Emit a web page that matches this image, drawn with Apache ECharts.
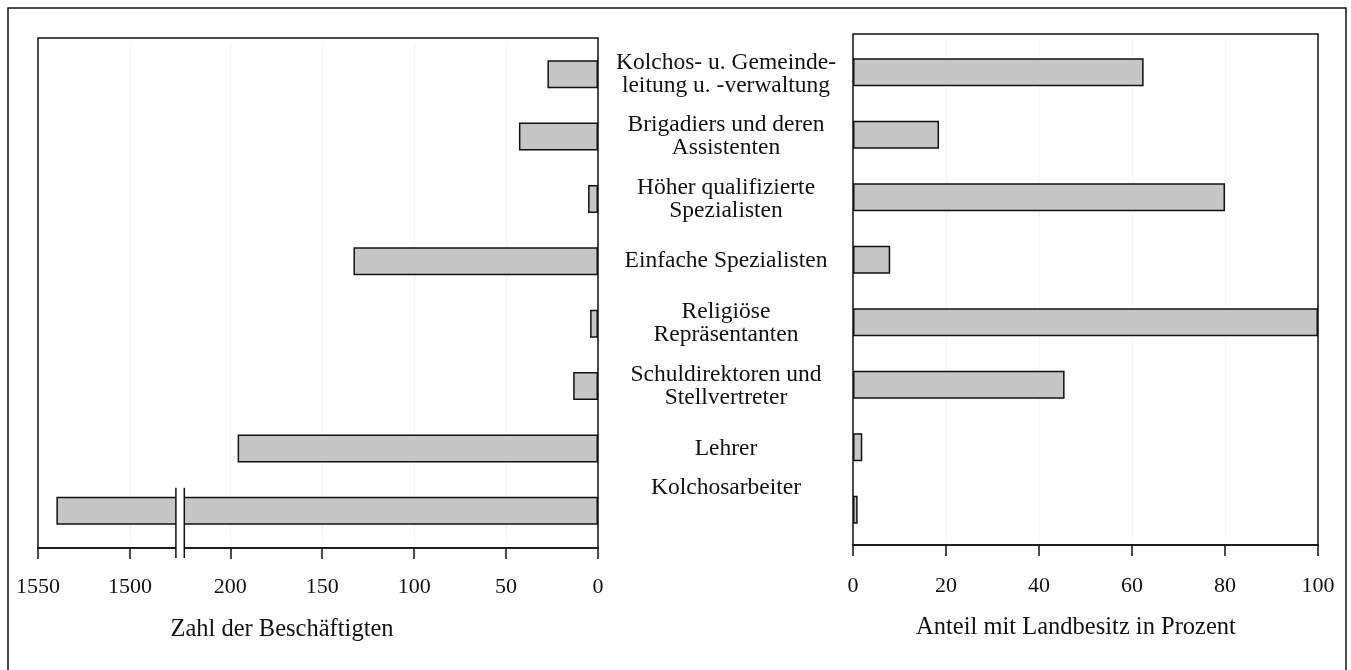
<!DOCTYPE html>
<html>
<head>
<meta charset="utf-8">
<script src="https://cdn.jsdelivr.net/npm/echarts@6.0.0/dist/echarts.min.js"></script>
<style>
html, body { margin: 0; padding: 0; background: #fff; }
#chart { width: 1351px; height: 670px; }
</style>
</head>
<body>
<div id="chart"></div>
<script>
// Berufsgruppen von oben nach unten
var kategorien = ['Kolchos- u. Gemeindeleitung u. -verwaltung', 'Brigadiers und deren Assistenten',
	'Höher qualifizierte Spezialisten', 'Einfache Spezialisten', 'Religiöse Repräsentanten',
	'Schuldirektoren und Stellvertreter', 'Lehrer', 'Kolchosarbeiter'];
// Beschriftung wie im Original umbrochen
var beschriftung = ['Kolchos- u. Gemeinde-\nleitung u. -verwaltung', 'Brigadiers und deren\nAssistenten',
	'Höher qualifizierte\nSpezialisten', 'Einfache Spezialisten', 'Religiöse\nRepräsentanten',
	'Schuldirektoren und\nStellvertreter', 'Lehrer', 'Kolchosarbeiter\n\n'];
var beschaeftigte = [27.5, 43, 5.4, 133, 4.3, 13.5, 196, 1540];
var landbesitz = [62.5, 18.5, 80, 8, 100, 45.5, 2, 1];
var achsenBruch = [225, 1475];
var ticksLinks = [0, 50, 100, 150, 200, 1500, 1550];
var ticksRechts = [0, 20, 40, 60, 80, 100];

var schrift = '"Liberation Serif", "DejaVu Serif", serif';
var schwarz = '#111';
var grau = '#c6c6c6';

function test() {
	var dom = document.getElementById('chart');
	var myChart = echarts.init(dom);
	var option = null;

	function linie() { return { color: schwarz, width: 1.5 }; }
	function gitter() {
		return { show: true, showMinLine: false, showMaxLine: false, lineStyle: { color: '#ececec', type: 'dotted' } };
	}
	function label(margin, werte) {
		return { show: true, color: schwarz, fontSize: 22, fontFamily: schrift, margin: margin, customValues: werte,
			formatter: function (v) { return String(v); } };
	}

	option = {
		animation: false,
		backgroundColor: '#fff',
		textStyle: { fontFamily: schrift },
		grid: [
			{ left: 38, top: 38, width: 560, height: 510, show: true, borderColor: schwarz, borderWidth: 1.5, backgroundColor: 'transparent' },
			{ left: 853, top: 34, width: 465, height: 511, show: true, borderColor: schwarz, borderWidth: 1.5, backgroundColor: 'transparent' },
			{ left: 38, top: 43, width: 560, height: 499 },
			{ left: 853, top: 41, width: 465, height: 500 }
		],
		xAxis: [
			{ gridIndex: 0, type: 'value', show: false },
			{ gridIndex: 1, type: 'value', show: false },
			{
				gridIndex: 2, type: 'value', inverse: true, min: 0, max: 1550, interval: 50, offset: 6,
				breaks: [{ start: achsenBruch[0], end: achsenBruch[1], gap: '1.5%' }],
				breakArea: { show: false },
				axisLine: { show: true, lineStyle: linie() },
				axisTick: { show: true, inside: false, length: 11, customValues: ticksLinks, lineStyle: linie() },
				splitLine: gitter(),
				axisLabel: label(28, ticksLinks)
			},
			{
				gridIndex: 3, type: 'value', min: 0, max: 100, interval: 20, offset: 4,
				axisLine: { show: true, lineStyle: linie() },
				axisTick: { show: true, inside: false, length: 11, customValues: ticksRechts, lineStyle: linie() },
				splitLine: gitter(),
				axisLabel: label(30, ticksRechts)
			}
		],
		yAxis: [
			{ gridIndex: 0, type: 'value', show: false },
			{ gridIndex: 1, type: 'value', show: false },
			{
				gridIndex: 2, type: 'category', data: kategorien, inverse: true, position: 'right',
				axisLine: { show: false }, axisTick: { show: false },
				axisLabel: {
					interval: 0, align: 'center', margin: 128, color: schwarz, fontSize: 23.5,
					lineHeight: 23, fontFamily: schrift,
					formatter: function (v, i) { return beschriftung[i]; }
				}
			},
			{
				gridIndex: 3, type: 'category', data: kategorien, inverse: true, position: 'left',
				axisLine: { show: false }, axisTick: { show: false }, axisLabel: { show: false }
			}
		],
		graphic: [
			{ type: 'rect', silent: true, shape: { x: 8, y: 8, width: 1338, height: 700 },
				style: { fill: 'none', stroke: schwarz, lineWidth: 1.5 } },
			{ type: 'text', silent: true, x: 282, y: 630,
				style: { text: 'Zahl der Beschäftigten', font: '24.5px ' + schrift, fill: schwarz, textAlign: 'center', textVerticalAlign: 'middle' } },
			{ type: 'text', silent: true, x: 1076, y: 628,
				style: { text: 'Anteil mit Landbesitz in Prozent', font: '24.5px ' + schrift, fill: schwarz, textAlign: 'center', textVerticalAlign: 'middle' } }
		],
		series: [
			{
				name: 'Zahl der Beschäftigten', type: 'bar', xAxisIndex: 2, yAxisIndex: 2,
				data: beschaeftigte, barWidth: 28,
				itemStyle: { color: grau, borderColor: schwarz, borderWidth: 1.5 }
			},
			{
				name: 'Anteil mit Landbesitz', type: 'bar', xAxisIndex: 3, yAxisIndex: 3,
				data: landbesitz, barWidth: 28,
				itemStyle: { color: grau, borderColor: schwarz, borderWidth: 1.5 }
			},
			{
				// Bruchzeichen ueber dem Balken und der Achse
				type: 'custom', xAxisIndex: 2, yAxisIndex: 2, clip: false, z: 10, silent: true,
				encode: { x: [0, 1], y: 2 },
				data: [[achsenBruch[0], achsenBruch[1], kategorien.indexOf('Kolchosarbeiter')]],
				renderItem: function (params, api) {
					var a = api.coord([api.value(0), api.value(2)]);
					var b = api.coord([api.value(1), api.value(2)]);
					var cs = params.coordSys;
					var oben = a[1] - 14 - 9;
					var unten = cs.y + cs.height + 6 + 10;
					var x1 = Math.min(a[0], b[0]), x2 = Math.max(a[0], b[0]);
					return {
						type: 'group',
						children: [
							{ type: 'rect', shape: { x: x1, y: oben, width: x2 - x1, height: unten - oben }, style: { fill: '#fff' } },
							{ type: 'line', shape: { x1: x1, y1: oben, x2: x1, y2: unten }, style: { stroke: schwarz, lineWidth: 1.5 } },
							{ type: 'line', shape: { x1: x2, y1: oben, x2: x2, y2: unten }, style: { stroke: schwarz, lineWidth: 1.5 } }
						]
					};
				}
			}
		]
	};

	if (option && typeof option === 'object') {
		myChart.setOption(option, true);
	}
}
test();
</script>
</body>
</html>
